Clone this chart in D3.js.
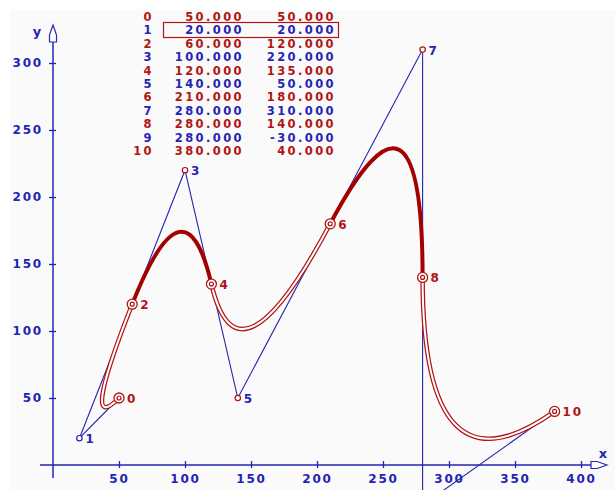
<!DOCTYPE html>
<html>
<head>
<meta charset="utf-8">
<script src="https://cdn.jsdelivr.net/npm/d3@7"></script>
<style>
  body { margin: 0; background: #fff; }
  text { font-family: "DejaVu Sans", sans-serif; font-weight: bold; }
</style>
</head>
<body>
<svg id="chart" width="615" height="490"></svg>
<script>
// points of the quadratic spline: even ones lie on the curve, odd ones are control points
const ids = [0, 1, 2, 3, 4, 5, 6, 7, 8, 9, 10];
const xs = [50, 20, 60, 100, 120, 140, 210, 280, 280, 280, 380];
const ys = [50, 20, 120, 220, 135, 50, 180, 310, 140, -30, 40];
const xTicks = [50, 100, 150, 200, 250, 300, 350, 400];
const yTicks = [50, 100, 150, 200, 250, 300];
const selected = 1;

const RED = "#b01414", BLUE = "#2424b4", DARK = "#a40000";

const svg = d3.select("#chart");
svg.append("rect").attr("x", 10).attr("y", 10).attr("width", 605).attr("height", 480)
  .attr("fill", "#fafafa");

const x = d3.scaleLinear().domain([0, 400]).range([53, 581]);
const y = d3.scaleLinear().domain([0, 300]).range([465, 63]);

// axes
const yAxis = svg.append("g").attr("transform", "translate(53,0)")
  .call(d3.axisLeft(y).tickValues(yTicks).tickSizeInner(4).tickSizeOuter(0).tickPadding(6));
const xAxis = svg.append("g").attr("transform", "translate(0,465)")
  .call(d3.axisBottom(x).tickValues(xTicks).tickSizeInner(4).tickSizeOuter(0).tickPadding(5));
[yAxis, xAxis].forEach(function (g) {
  g.select(".domain").remove();
  g.selectAll(".tick line").attr("stroke", BLUE).attr("stroke-width", 1.3);
  g.selectAll(".tick text").attr("fill", BLUE).style("font-size", "12px")
    .style("letter-spacing", "1.8px").style("font-family", "DejaVu Sans").style("font-weight", "bold");
});
yAxis.selectAll(".tick line").attr("x2", -4).attr("x1", 3);
xAxis.selectAll(".tick line").attr("y1", -4).attr("y2", 3);

svg.append("line").attr("x1", 53).attr("x2", 53).attr("y1", 478).attr("y2", 42)
  .attr("stroke", BLUE).attr("stroke-width", 1.5);
svg.append("line").attr("x1", 40).attr("x2", 591).attr("y1", 465).attr("y2", 465)
  .attr("stroke", BLUE).attr("stroke-width", 1.5);
svg.append("polygon").attr("points", "53,25 56.5,35 56.5,42 49.5,42 49.5,35")
  .attr("fill", "#fff").attr("stroke", BLUE).attr("stroke-width", 1.2);
svg.append("polygon").attr("points", "607,465 597,461.5 591,461.5 591,468.5 597,468.5")
  .attr("fill", "#fff").attr("stroke", BLUE).attr("stroke-width", 1.2);
svg.append("text").attr("x", 37).attr("y", 36).attr("fill", BLUE)
  .style("font-size", "13px").attr("text-anchor", "middle").text("y");
svg.append("text").attr("x", 603).attr("y", 458).attr("fill", BLUE)
  .style("font-size", "13px").attr("text-anchor", "middle").text("x");

// control polygon
svg.append("path")
  .attr("d", d3.line().x(function (i) { return x(xs[i]); }).y(function (i) { return y(ys[i]); })(ids))
  .attr("fill", "none").attr("stroke", BLUE).attr("stroke-width", 1.1);

// spline segments
for (let s = 0; s + 2 < ids.length; s += 2) {
  const p = d3.path();
  p.moveTo(x(xs[s]), y(ys[s]));
  p.quadraticCurveTo(x(xs[s + 1]), y(ys[s + 1]), x(xs[s + 2]), y(ys[s + 2]));
  if ((s / 2) % 2 === 0) {
    svg.append("path").attr("d", p.toString()).attr("fill", "none")
      .attr("stroke", RED).attr("stroke-width", 4.5);
    svg.append("path").attr("d", p.toString()).attr("fill", "none")
      .attr("stroke", "#fff").attr("stroke-width", 2);
  } else {
    svg.append("path").attr("d", p.toString()).attr("fill", "none")
      .attr("stroke", DARK).attr("stroke-width", 4).attr("stroke-linecap", "round");
  }
}

// markers and labels (points below the x axis fall outside the view)
ids.forEach(function (i) {
  if (ys[i] < 0) return;
  const cx = x(xs[i]), cy = y(ys[i]);
  const col = i === selected ? BLUE : RED;
  if (i % 2 === 0) {
    svg.append("circle").attr("cx", cx).attr("cy", cy).attr("r", 5)
      .attr("fill", "#fff").attr("stroke", col).attr("stroke-width", 1.3);
    svg.append("circle").attr("cx", cx).attr("cy", cy).attr("r", 2)
      .attr("fill", "#fff").attr("stroke", col).attr("stroke-width", 1.2);
  } else {
    svg.append("circle").attr("cx", cx).attr("cy", cy).attr("r", 2.7)
      .attr("fill", "#fff").attr("stroke", col).attr("stroke-width", 1.2);
  }
  svg.append("text").attr("x", cx + (i % 2 === 0 ? 8 : 6)).attr("y", cy + 1)
    .attr("dominant-baseline", "central").attr("fill", i % 2 === 0 ? RED : BLUE)
    .style("font-size", "12px").style("letter-spacing", "1.8px").text(ids[i]);
});

// coordinate table
const fmt = d3.formatLocale({ decimal: ".", thousands: ",", grouping: [3], currency: ["", ""], minus: "-" }).format(".3f");
const table = svg.append("g").style("font-size", "11.5px").style("letter-spacing", "2.4px");
ids.forEach(function (i) {
  const ty = 16 + i * 13.4;
  const c = i % 2 === 0 ? RED : BLUE;
  [[154, ids[i]], [244, fmt(xs[i])], [336, fmt(ys[i])]].forEach(function (cell) {
    table.append("text").attr("x", cell[0]).attr("y", ty + 1).attr("text-anchor", "end")
      .attr("dominant-baseline", "central").attr("fill", c).text(cell[1]);
  });
});
svg.append("rect").attr("x", 163.5).attr("y", 22.5).attr("width", 175).attr("height", 15)
  .attr("fill", "none").attr("stroke", RED).attr("stroke-width", 1.2);
</script>
</body>
</html>
